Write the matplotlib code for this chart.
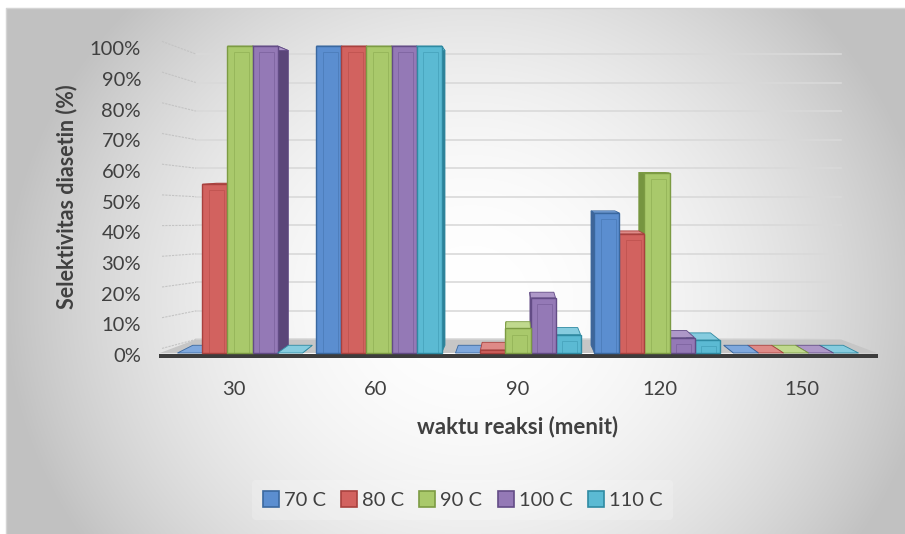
import matplotlib
matplotlib.use('Agg')
import matplotlib.pyplot as plt
from matplotlib.patches import Polygon, Patch
import numpy as np

plt.rcParams['font.family'] = ['Lato', 'DejaVu Sans']

# waktu reaksi (menit) dan selektivitas diasetin tiap suhu
waktu = ['30', '60', '90', '120', '150']
seri = ['70 C', '80 C', '90 C', '100 C', '110 C']
s70 = [0.00, 1.00, 0.00, 0.456, 0.00]
s80 = [0.55, 1.00, 0.01, 0.388, 0.00]
s90 = [1.00, 1.00, 0.08, 0.586, 0.00]
s100 = [1.00, 1.00, 0.18, 0.05, 0.00]
s110 = [0.00, 1.00, 0.06, 0.042, 0.00]
nilai = [s70, s80, s90, s100, s110]
yticks = np.arange(0, 1.01, 0.1)

warna = ['#5B8ED0', '#D2625F', '#A9C96B', '#9479B6', '#5BBAD3']
tepi = ['#3A689F', '#A8413E', '#7C9B43', '#634C86', '#2F8AA2']
sisi = ['#3F6598', '#9C3B38', '#769540', '#5B4679', '#2E8096']
atas = ['#7FA8DD', '#DE8A87', '#C0D98E', '#AE98C8', '#86CCDF']

W, H = 905, 534
fig = plt.figure(figsize=(W / 100, H / 100), dpi=100)

# latar: gradien radial abu-abu
bg = fig.add_axes([0, 0, 1, 1], zorder=-5)
yy, xx = np.mgrid[0:H, 0:W]
d = np.hypot((xx - 470) / 465.0, (yy - 300) / 430.0)
g = 1 - 0.24 * np.clip(d, 0, 1) ** 2
img = np.dstack([g, g, g])
img[(xx < 6) | (yy < 8)] = 1.0
bg.imshow(img, extent=(0, W, H, 0), interpolation='bilinear')
bg.plot([6, 6, W], [H, 8, 8], color='#d4d4d4', lw=1)
bg.set_xlim(0, W)
bg.set_ylim(H, 0)
bg.axis('off')

# sumbu utama: x = indeks kategori, y = fraksi
ax = fig.add_axes([0, 0, 1, 1])
ax.set_xlim(2 - 518 / 139, 2 + 387 / 139)
ax.set_ylim((353 - 534) / 307, 353 / 307)
ax.axis('off')
ax.patch.set_alpha(0)

XV, YV = 2.0, 0.63   # titik hilang perspektif


def proj(x, v, sx, sy):
    return XV + sx * (x - XV), YV + sy * (v - YV)


# dinding & lantai
xl, xr = -0.576, 4.583
wsx, wsy = 0.90, 0.93
for v in yticks:
    bx0, by0 = proj(xl, v, wsx, wsy)
    bx1, by1 = proj(xr, v, wsx, wsy)
    ax.plot([bx0, bx1], [by0, by1], color='#d9d9d9', lw=1.2, zorder=1)
    ax.plot([-0.561, bx0], [v + 0.015, by0], color='#c4c4c4', lw=0.8,
            ls=(0, (2, 1)), zorder=1)
    ax.text(-0.712, v - 0.012, f'{int(round(v * 100))}%', ha='right',
            va='center', fontsize=14.5, color='#404040')

fl = [(xl, 0), (xr, 0), proj(xr, 0, wsx, wsy), proj(xl, 0, wsx, wsy)]
ax.add_patch(Polygon(fl, closed=True, fc='#c6c6c6', ec='none', zorder=2))
ax.fill_between([xl - 0.005, xr + 0.005], -0.016, -0.004, color='#3c3c3c',
                lw=0, zorder=3)

# batang 3D
w = 0.18
bsx, bsy = 0.955, 0.96
bars = []
for j, vals in enumerate(nilai):
    for i, v in enumerate(vals):
        xc = i + (j - 2) * w
        bars.append((abs(xc - XV), xc, v, j))
bars.sort(key=lambda b: -b[0])

for r, (_, xc, v, j) in enumerate(bars):
    z = 5 + r * 0.05
    left, right = xc - w / 2, xc + w / 2
    xs = right if xc < XV else left
    side = [(xs, 0), (xs, v), proj(xs, v, bsx, bsy), proj(xs, 0, bsx, bsy)]
    ax.add_patch(Polygon(side, closed=True, fc=sisi[j], ec=tepi[j], lw=0.6,
                         zorder=z))
    top = [(left, v), (right, v), proj(right, v, bsx, bsy),
           proj(left, v, bsx, bsy)]
    ax.add_patch(Polygon(top, closed=True, fc=atas[j], ec=tepi[j], lw=0.6,
                         zorder=z + 0.01))
    if v > 0:
        ax.bar(xc, v, width=w, color=warna[j], edgecolor=tepi[j], lw=1.0,
               zorder=z + 0.02)
        if v > 0.03:
            ax.bar(xc + 0.012, v - 0.02, width=w * 0.62, fill=False,
                   edgecolor=tepi[j], lw=0.6, alpha=0.45, zorder=z + 0.03)

# label kategori
for i, t in enumerate(waktu):
    ax.text(2 + (i - 2) * 1.022, -0.12, t, ha='center', va='center',
            fontsize=14.5, color='#404040')

ax.text(2.0, -0.241, 'waktu reaksi (menit)', ha='center', va='center',
        fontsize=16, fontweight='bold', color='#404040')
ax.text(-1.245, 0.508, 'Selektivitas diasetin (%)', ha='center',
        va='center', rotation=90, fontsize=15.5, fontweight='bold',
        color='#404040')

handles = [Patch(facecolor=warna[j], edgecolor=tepi[j], lw=1.2)
           for j in range(len(seri))]
leg = ax.legend(handles, seri, loc='center', bbox_to_anchor=(0.511, 0.0637),
                ncol=5, frameon=True, fontsize=14.5, handlelength=0.8,
                handleheight=0.8, handletextpad=0.25, columnspacing=0.75,
                borderpad=0.55)
leg.get_frame().set_facecolor('white')
leg.get_frame().set_alpha(0.2)
leg.get_frame().set_edgecolor('none')
for t in leg.get_texts():
    t.set_color('#404040')

fig.savefig('out.png', dpi=100)
